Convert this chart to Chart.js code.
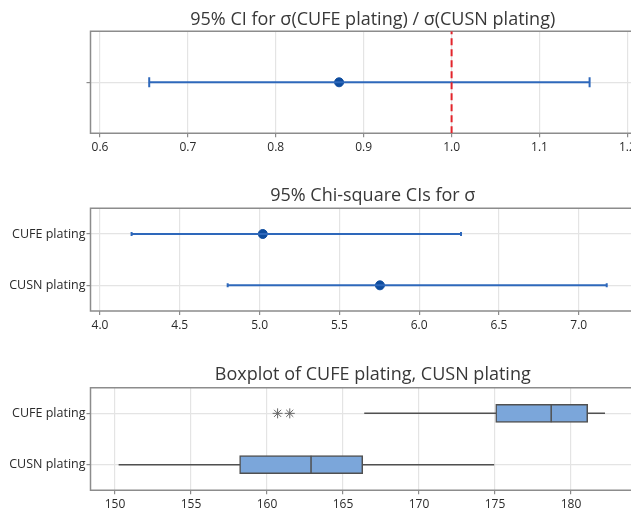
<!DOCTYPE html>
<html>
<head>
<meta charset="utf-8">
<script src="https://cdn.jsdelivr.net/npm/chart.js@4/dist/chart.umd.min.js"></script>
<style>
  html, body { margin: 0; padding: 0; background: #fff; overflow: hidden; }
  #wrap { position: relative; width: 631px; height: 511px; overflow: hidden; }
  canvas { position: absolute; left: 0; }
</style>
</head>
<body>
<div id="wrap">
  <canvas id="ratio-chart" width="680" height="170" style="top:0px"></canvas>
  <canvas id="sigma-chart" width="680" height="170" style="top:170px"></canvas>
  <canvas id="box-chart" width="680" height="171" style="top:340px"></canvas>
</div>
<script>
/*************************
DATA
*************************/

// ratio of standard deviations
const ratioLower = [0.656];
const ratioUpper = [1.157];
const ratioEstimate = [0.872];
const ratioReference = [1.0];
const ratioTicks = [0.6, 0.7, 0.8, 0.9, 1.0, 1.1, 1.2];

// chi-square CIs for sigma
const groups = ['CUFE plating', 'CUSN plating'];
const sigmaLower = [4.198, 4.80];
const sigmaUpper = [6.262, 7.175];
const sigmaEstimate = [5.02, 5.754];
const sigmaTicks = [4.0, 4.5, 5.0, 5.5, 6.0, 6.5, 7.0];

// boxplot
const whiskerLow = [166.4, 150.24];
const quartile1 = [175.05, 158.2];
const medians = [178.7, 162.9];
const quartile3 = [181.1, 166.3];
const whiskerHigh = [182.24, 174.95];
const outliers = [[160.7, 161.5], []];
const boxTicks = [150, 155, 160, 165, 170, 175, 180];

/*************************
STYLE
*************************/

const ciColor = '#2e68bb';
const dotColor = '#0e4c9e';
const refColor = '#e3242b';
const boxFill = '#7ba6da';
const boxLine = '#505050';
const gridColor = '#e4e4e4';
const frameColor = '#8c8c8c';
const textColor = '#2a2a2a';

Chart.defaults.font.family = "'Open Sans', 'Noto Sans', sans-serif";
Chart.defaults.color = textColor;

//draws the grey frame round the plot area (the right side falls outside the page)
const framePlugin = {
	id: 'frame',
	beforeDatasetsDraw(chart){
		const {ctx, chartArea: a} = chart;
		ctx.save();
		ctx.strokeStyle = frameColor;
		ctx.lineWidth = 1.5;
		ctx.beginPath();
		ctx.moveTo(a.right, a.top);
		ctx.lineTo(a.left, a.top);
		ctx.lineTo(a.left, a.bottom);
		ctx.lineTo(a.right, a.bottom);
		ctx.stroke();
		ctx.restore();
	}
};

function TitleOptions(text, top, bottom){
	return {
		display: true,
		text: text,
		fullSize: false,
		color: '#383838',
		font: {size: 18, weight: 'normal'},
		padding: {top: top, bottom: bottom},
	};
}

function XAxis(min, max, ticks, height, fmt){
	return {
		type: 'linear',
		min: min,
		max: max,
		afterBuildTicks: s => { s.ticks = ticks.map(v => ({value: v})); },
		afterFit: s => { s.height = height; },
		ticks: {font: {size: 12}, padding: 3, callback: fmt},
		grid: {color: gridColor, lineWidth: 1.2, tickLength: 4, tickColor: frameColor},
		border: {display: false},
	};
}

function CategoryYAxis(){
	return {
		type: 'category',
		labels: groups,
		offset: true,
		afterFit: s => { s.width = 90.5; },
		ticks: {font: {size: 12.5}, padding: 1},
		grid: {color: gridColor, lineWidth: 1.2, offset: false, tickLength: 4, tickColor: frameColor},
		border: {display: false},
	};
}

const baseOptions = {
	responsive: false,
	animation: false,
	events: [],
	layout: {padding: {left: 0, right: 25, top: 0, bottom: 0}},
};

/*************************
RATIO CHART
*************************/

new Chart(document.querySelector('#ratio-chart'), {
	type: 'scatter',
	data: {
		datasets: [
			{
				data: ratioReference.flatMap(v => [{x: v, y: -1}, {x: v, y: 1}]),
				showLine: true,
				borderColor: refColor,
				borderWidth: 2,
				borderDash: [7, 4],
				pointRadius: 0,
			},
			{
				data: [{x: ratioLower[0], y: 0}, {x: ratioUpper[0], y: 0}],
				showLine: true,
				borderColor: ciColor,
				borderWidth: 2,
				pointStyle: 'line',
				rotation: 90,
				pointRadius: 5,
				pointBorderWidth: 2,
				pointBorderColor: ciColor,
			},
			{
				data: ratioEstimate.map(v => ({x: v, y: 0})),
				pointRadius: 4.5,
				backgroundColor: dotColor,
				borderColor: dotColor,
			},
		],
	},
	options: {
		...baseOptions,
		plugins: {
			legend: {display: false},
			tooltip: {enabled: false},
			title: TitleOptions('95% CI for σ(CUFE plating) / σ(CUSN plating)', 8.7, 1),
		},
		scales: {
			x: XAxis(0.5892, 1.2314, ratioTicks, 36.7, v => v.toFixed(1)),
			y: {
				type: 'linear',
				min: -1,
				max: 1,
				afterBuildTicks: s => { s.ticks = [{value: 0}]; },
				afterFit: s => { s.width = 90.5; },
				ticks: {callback: () => ''},
				grid: {color: gridColor, lineWidth: 1.2, tickLength: 4, tickColor: frameColor},
				border: {display: false},
			},
		},
	},
	plugins: [framePlugin],
});

/*************************
SIGMA CHART
*************************/

new Chart(document.querySelector('#sigma-chart'), {
	type: 'scatter',
	data: {
		datasets: [
			...groups.map((g, i) => ({
				data: [{x: sigmaLower[i], y: g}, {x: sigmaUpper[i], y: g}],
				showLine: true,
				borderColor: ciColor,
				borderWidth: 2,
				pointStyle: 'line',
				rotation: 90,
				pointRadius: 2,
				pointBorderWidth: 2,
				pointBorderColor: ciColor,
			})),
			{
				data: groups.map((g, i) => ({x: sigmaEstimate[i], y: g})),
				pointRadius: 4.5,
				backgroundColor: dotColor,
				borderColor: dotColor,
			},
		],
	},
	options: {
		...baseOptions,
		plugins: {
			legend: {display: false},
			tooltip: {enabled: false},
			title: TitleOptions('95% Chi-square CIs for σ', 14.9, 1.8),
		},
		scales: {
			x: XAxis(3.9405, 7.4775, sigmaTicks, 29, v => v.toFixed(1)),
			y: CategoryYAxis(),
		},
	},
	plugins: [framePlugin],
});

/*************************
BOXPLOT
*************************/

new Chart(document.querySelector('#box-chart'), {
	type: 'bar',
	data: {
		labels: groups,
		datasets: [
			{
				data: groups.map((g, i) => [quartile1[i], quartile3[i]]),
				backgroundColor: boxFill,
				borderColor: boxLine,
				borderWidth: 1.5,
				borderSkipped: false,
				barThickness: 18,
				order: 1,
			},
			...groups.map((g, i) => ({
				type: 'line',
				data: [{x: whiskerLow[i], y: g}, {x: whiskerHigh[i], y: g}],
				borderColor: boxLine,
				borderWidth: 1.5,
				pointRadius: 0,
				order: 2,
			})),
			{
				type: 'line',
				data: groups.map((g, i) => ({x: medians[i], y: g})),
				showLine: false,
				pointStyle: 'line',
				rotation: 90,
				pointRadius: 9,
				pointBorderWidth: 1.5,
				pointBorderColor: boxLine,
				order: 0,
			},
			{
				type: 'line',
				data: groups.flatMap((g, i) => outliers[i].map(v => ({x: v, y: g}))),
				showLine: false,
				pointStyle: 'star',
				pointRadius: 5,
				pointBorderWidth: 1,
				pointBorderColor: '#666',
				order: 0,
			},
		],
	},
	options: {
		...baseOptions,
		indexAxis: 'y',
		plugins: {
			legend: {display: false},
			tooltip: {enabled: false},
			title: TitleOptions('Boxplot of CUFE plating, CUSN plating', 23.7, 2.4),
		},
		scales: {
			x: XAxis(148.39, 185.53, boxTicks, 20.7, v => v),
			y: CategoryYAxis(),
		},
	},
	plugins: [framePlugin],
});
</script>
</body>
</html>
